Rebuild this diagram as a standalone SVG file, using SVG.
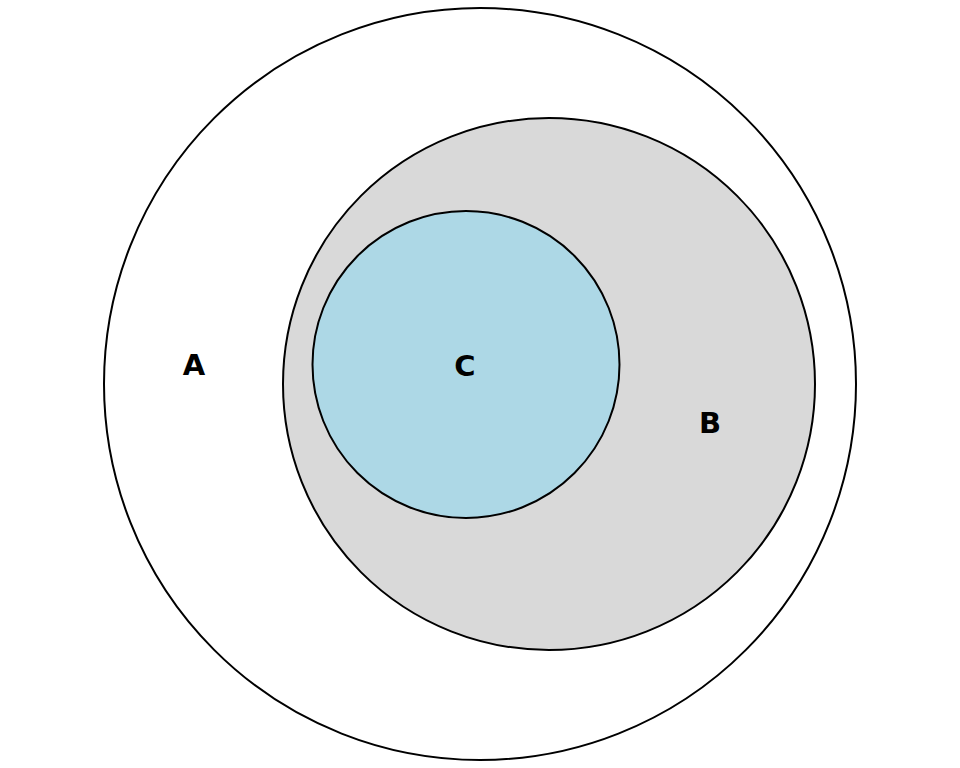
<svg xmlns="http://www.w3.org/2000/svg" width="960" height="768" viewBox="0 0 960 768">
<style>
circle{stroke:#000;stroke-width:2}
text{font-family:"DejaVu Sans",sans-serif;font-weight:bold;font-size:29px;text-anchor:middle;dominant-baseline:central;fill:#000}
</style>
<rect width="960" height="768" fill="#fff"/>
<g id="A"><circle cx="480" cy="384" r="376" fill="#fff"/><text x="194" y="365">A</text></g>
<g id="B"><circle cx="549" cy="384" r="266" fill="#d9d9d9"/><text x="710" y="423">B</text></g>
<g id="C"><circle cx="466" cy="364.5" r="153.5" fill="#add8e6"/><text x="465" y="366">C</text></g>
<g id="connectors"/>
</svg>
